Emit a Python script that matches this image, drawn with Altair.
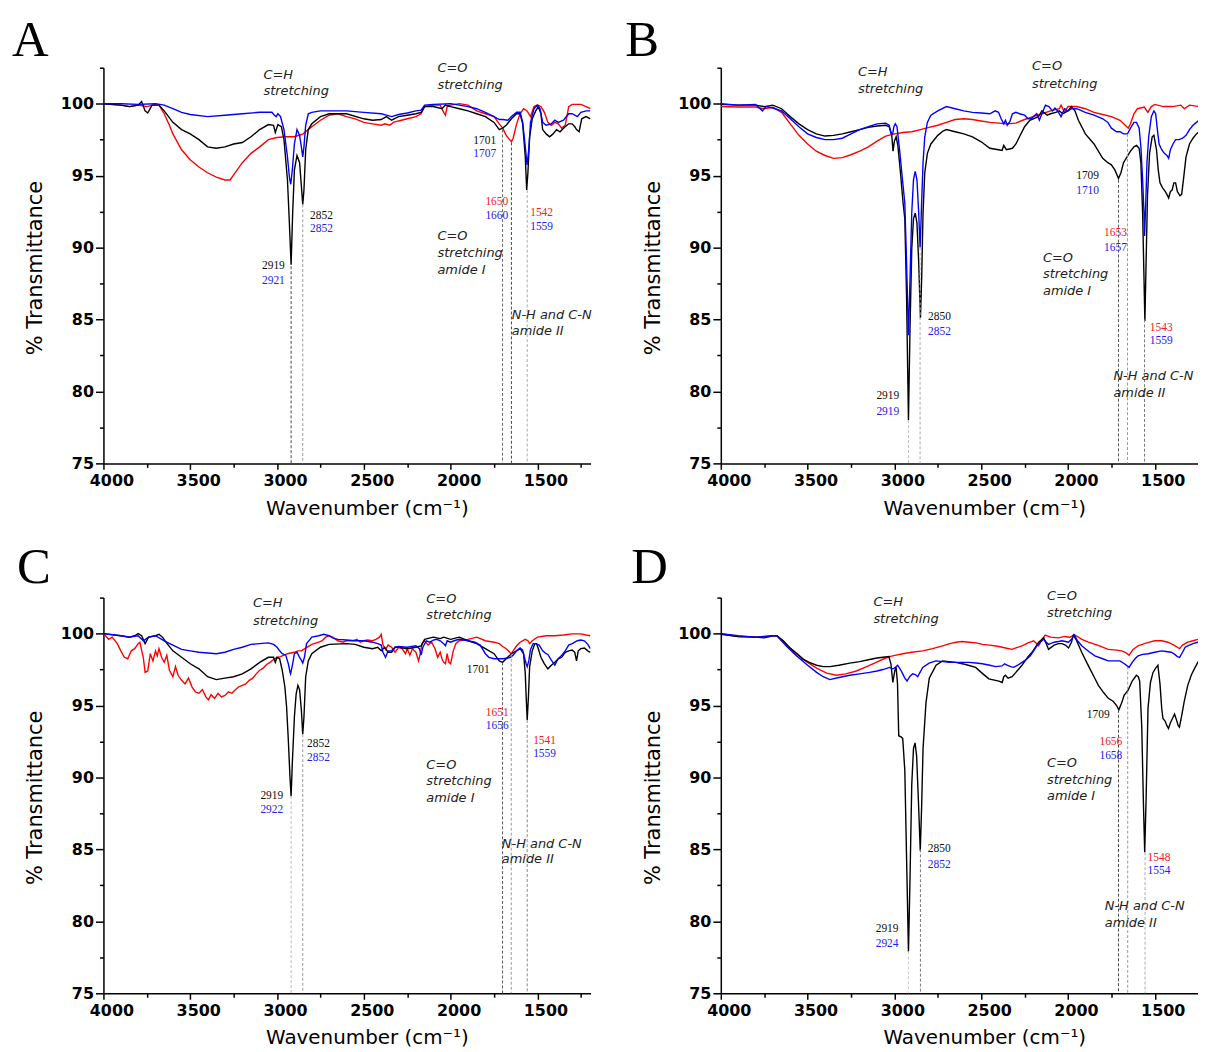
import altair as alt
import pandas as pd

# ---------------- Panel A spectra (wavenumber, %T) ----------------
A_black = [(4000,100),(3900,99.9),(3850,99.8),(3800,99.9),(3780,100.15),(3760,99.5),(3745,99.35),(3720,99.9),(3680,99.9),(3650,99.5),
           (3600,98.7),(3550,98.2),(3500,97.9),(3450,97.5),(3400,97.0),(3350,96.9),(3300,97.0),(3250,97.2),(3200,97.3),(3150,97.7),
           (3100,98.2),(3050,98.55),(3020,98.5),(3010,98.0),(2995,98.55),(2975,98.4),(2960,97.5),(2940,94.7),(2930,92.0),(2919,88.8),
           (2910,92.4),(2900,95.4),(2885,96.4),(2870,95.9),(2860,94.3),(2852,93.0),(2845,94.0),(2835,96.8),(2820,98.2),(2800,98.6),
           (2750,99.1),(2700,99.3),(2600,99.3),(2500,98.95),(2450,98.85),(2400,98.9),(2370,99.1),(2340,98.85),(2300,99.1),(2250,99.2),
           (2200,99.3),(2170,99.4),(2150,99.8),(2100,99.8),(2050,99.65),(2030,99.9),(2000,99.8),(1950,99.65),(1900,99.5),(1850,99.3),
           (1800,99.1),(1750,98.7),(1720,98.2),(1701,98.3),(1680,98.5),(1650,98.95),(1620,99.3),(1600,99.3),(1585,98.6),(1570,96.3),
           (1562,94.0),(1555,95.2),(1545,97.7),(1530,98.95),(1510,99.5),(1495,99.8),(1480,99.3),(1470,98.2),(1450,97.9),(1430,97.7),
           (1410,97.9),(1390,98.2),(1370,98.05),(1350,98.3),(1320,98.6),(1300,98.6),(1285,98.4),(1275,98.2),(1260,98.05),(1245,98.95),
           (1220,99.1),(1195,98.95)]
A_red = [(4000,100),(3900,99.9),(3850,99.8),(3800,99.9),(3750,99.8),(3700,99.95),(3680,99.9),(3650,99.3),(3620,98.5),(3600,97.9),
         (3550,96.8),(3500,96.1),(3450,95.6),(3400,95.2),(3350,94.9),(3300,94.7),(3270,94.7),(3250,95.05),(3200,95.9),(3150,96.55),
         (3100,97.0),(3050,97.5),(3000,97.65),(2950,97.7),(2900,97.7),(2850,97.9),(2800,98.4),(2750,98.85),(2700,99.2),(2650,99.3),
         (2600,99.1),(2550,98.95),(2500,98.7),(2450,98.6),(2400,98.5),(2380,98.6),(2350,98.5),(2330,98.7),(2300,98.8),(2250,98.95),
         (2200,99.1),(2170,99.3),(2150,99.8),(2100,99.9),(2060,99.9),(2040,99.4),(2030,99.2),(2020,99.8),(2000,99.9),(1950,100),
         (1900,99.9),(1850,99.5),(1800,99.3),(1750,99.1),(1720,98.6),(1700,98.3),(1680,97.8),(1660,97.5),(1650,97.35),(1640,97.6),
         (1620,98.6),(1600,99.3),(1580,99.65),(1560,99.5),(1540,99.1),(1520,99.8),(1500,99.9),(1480,99.8),(1460,99.4),(1440,98.7),
         (1420,98.5),(1400,98.7),(1380,98.6),(1360,98.3),(1340,98.5),(1320,99.8),(1300,99.95),(1250,99.95),(1220,99.8),(1195,99.65)]
A_blue = [(4000,100),(3900,100),(3800,99.95),(3700,100),(3650,99.9),(3600,99.65),(3550,99.4),(3500,99.25),(3400,99.1),(3300,99.2),
          (3200,99.3),(3100,99.4),(3030,99.4),(3015,99.2),(3005,99.1),(2995,99.3),(2980,99.1),(2960,98.2),(2940,96.3),(2928,94.8),
          (2921,94.4),(2912,95.4),(2900,97.2),(2885,98.2),(2870,97.8),(2860,97.0),(2852,96.3),(2845,97.0),(2835,98.5),(2820,99.3),
          (2800,99.4),(2750,99.5),(2600,99.5),(2500,99.4),(2400,99.3),(2370,99.2),(2340,99.1),(2300,99.25),(2250,99.35),(2200,99.5),
          (2170,99.55),(2150,99.9),(2100,99.95),(2000,100),(1900,99.8),(1850,99.65),(1800,99.4),(1750,99.1),(1720,98.9),(1700,98.9),
          (1670,98.85),(1650,99.1),(1620,99.4),(1600,99.4),(1585,98.7),(1570,97.0),(1560,95.75),(1550,96.8),(1540,98.7),(1520,99.65),
          (1500,99.9),(1485,99.65),(1470,98.7),(1450,98.5),(1420,98.6),(1400,98.85),(1380,98.7),(1350,98.85),(1320,99.3),(1300,99.3),
          (1270,99.1),(1250,99.4),(1220,99.5),(1195,99.5)]

# ---------------- Panel B spectra ----------------
B_black = [(4000,99.95),(3900,99.9),(3800,99.9),(3750,99.8),(3700,99.9),(3650,99.65),(3600,99.1),(3550,98.6),(3500,98.2),(3450,97.9),
           (3400,97.75),(3350,97.8),(3300,97.9),(3250,98.05),(3200,98.2),(3150,98.35),(3100,98.45),(3050,98.5),(3030,98.4),(3015,97.8),
           (3008,96.7),(3000,97.4),(2990,97.7),(2980,97.1),(2965,95.2),(2950,93.1),(2940,92.0),(2930,86.7),(2919,78.0),(2910,84.4),
           (2900,89.9),(2890,92.0),(2880,92.4),(2870,91.7),(2860,89.0),(2850,85.1),(2843,87.8),(2835,92.4),(2825,95.2),(2810,96.55),
           (2790,97.2),(2750,97.8),(2720,98.1),(2700,98.2),(2650,98.05),(2600,97.9),(2550,97.7),(2500,97.35),(2450,96.9),(2400,96.8),
           (2380,96.75),(2370,97.1),(2355,96.8),(2320,96.9),(2300,97.2),(2250,98.4),(2220,98.85),(2200,98.95),(2170,99.1),(2150,99.5),
           (2120,99.2),(2100,99.3),(2070,99.4),(2050,99.5),(2030,99.3),(2000,99.5),(1980,99.8),(1960,99.5),(1940,98.85),(1900,97.9),
           (1850,97.2),(1800,96.2),(1770,95.9),(1750,95.75),(1730,95.4),(1709,94.8),(1695,95.2),(1680,95.9),(1660,96.3),(1640,96.7),
           (1620,97.0),(1605,97.1),(1590,96.9),(1580,95.9),(1570,92.4),(1562,87.8),(1557,84.9),(1550,89.0),(1542,93.6),(1530,96.55),
           (1515,97.7),(1505,97.8),(1490,96.8),(1480,95.4),(1470,94.5),(1455,94.15),(1440,93.9),(1430,93.7),(1420,93.45),(1410,93.9),
           (1400,94.0),(1390,94.5),(1380,94.5),(1370,93.9),(1355,93.6),(1345,93.7),(1335,94.7),(1320,96.3),(1300,97.2),(1280,97.6),
           (1260,97.9),(1245,98.05)]
B_blue = [(4000,100),(3900,99.9),(3800,99.95),(3760,99.5),(3740,99.8),(3700,99.7),(3650,99.5),(3600,98.95),(3550,98.4),(3500,97.9),
          (3450,97.65),(3400,97.5),(3350,97.5),(3300,97.6),(3250,97.9),(3200,98.2),(3150,98.4),(3100,98.6),(3050,98.65),(3030,98.5),
          (3018,97.9),(3010,97.9),(3003,98.4),(2995,98.6),(2985,98.4),(2970,96.8),(2955,94.9),(2940,93.1),(2930,89.0),(2919,83.9),
          (2910,87.8),(2900,92.4),(2890,94.7),(2880,95.3),(2870,94.7),(2860,92.4),(2852,90.0),(2845,92.4),(2835,95.9),(2825,97.7),
          (2810,98.7),(2790,99.2),(2750,99.5),(2700,99.8),(2650,99.65),(2600,99.5),(2550,99.4),(2500,99.35),(2450,99.3),(2420,99.5),
          (2400,99.4),(2385,98.95),(2370,98.6),(2360,98.85),(2350,98.5),(2335,98.75),(2320,99.3),(2300,99.4),(2280,99.3),(2250,99.2),
          (2230,98.95),(2210,98.95),(2200,99.1),(2180,99.3),(2165,98.85),(2150,99.3),(2130,99.9),(2110,99.8),(2090,99.5),(2075,99.7),
          (2060,99.5),(2040,99.1),(2020,99.65),(2000,99.5),(1980,99.65),(1950,99.65),(1900,99.4),(1850,99.2),(1800,98.95),(1770,98.7),
          (1750,98.3),(1720,98.05),(1700,98.05),(1680,97.9),(1657,97.9),(1640,98.3),(1620,98.7),(1605,98.7),(1590,98.3),(1580,97.0),
          (1570,94.7),(1562,92.4),(1559,90.8),(1552,93.1),(1545,95.9),(1535,97.7),(1520,99.1),(1505,99.5),(1495,99.3),(1485,98.2),
          (1475,97.2),(1460,96.8),(1445,96.55),(1430,96.4),(1420,96.2),(1410,96.8),(1395,97.2),(1380,97.5),(1360,97.5),(1340,97.6),
          (1320,97.8),(1300,98.2),(1280,98.5),(1260,98.7),(1245,98.85)]
B_red = [(4000,99.8),(3900,99.77),(3800,99.77),(3750,99.65),(3700,99.75),(3650,99.4),(3600,98.6),(3550,97.8),(3500,97.2),(3450,96.7),
         (3400,96.4),(3350,96.2),(3300,96.25),(3250,96.45),(3200,96.7),(3150,97.0),(3100,97.4),(3050,97.75),(3000,97.9),(2950,98.0),
         (2900,98.05),(2850,98.2),(2800,98.35),(2750,98.5),(2700,98.7),(2650,98.9),(2600,98.95),(2550,98.9),(2500,98.8),(2450,98.7),
         (2400,98.65),(2350,98.6),(2300,98.65),(2250,98.9),(2200,99.1),(2150,99.3),(2100,99.5),(2050,99.65),(2040,99.9),(2020,99.4),
         (2000,99.8),(1950,99.8),(1900,99.65),(1850,99.4),(1800,99.25),(1750,99.1),(1700,98.85),(1670,98.5),(1653,98.3),(1640,98.6),
         (1620,99.3),(1600,99.65),(1560,99.77),(1540,99.4),(1520,99.8),(1500,99.95),(1450,99.8),(1400,99.8),(1350,99.9),(1330,99.65),
         (1300,99.9),(1245,99.8)]

# ---------------- Panel C spectra ----------------
C_black = [(4000,100),(3900,99.85),(3850,99.75),(3820,99.85),(3800,100.0),(3780,99.85),(3760,99.3),(3740,99.75),(3700,99.85),(3680,99.95),
           (3660,99.75),(3640,99.4),(3600,98.8),(3550,98.35),(3500,97.9),(3450,97.55),(3400,97.0),(3350,96.8),(3300,96.9),(3250,97.0),
           (3200,97.2),(3150,97.55),(3100,98.0),(3050,98.35),(3020,98.35),(3010,98.0),(3000,98.35),(2985,98.25),(2970,97.45),(2955,96.3),
           (2945,94.9),(2935,92.6),(2925,89.9),(2919,88.7),(2912,91.0),(2900,94.2),(2890,95.8),(2880,96.4),(2870,96.1),(2860,94.7),
           (2852,93.0),(2845,94.2),(2835,97.0),(2820,98.1),(2800,98.6),(2750,99.05),(2700,99.25),(2600,99.3),(2550,99.25),(2500,99.05),
           (2450,98.95),(2420,99.05),(2400,98.8),(2380,99.05),(2360,98.7),(2340,98.7),(2320,99.05),(2300,99.05),(2250,98.95),(2200,99.05),
           (2170,99.15),(2150,99.6),(2100,99.75),(2060,99.65),(2040,99.75),(2000,99.6),(1950,99.75),(1900,99.5),(1850,99.3),(1800,98.95),
           (1750,98.6),(1720,98.1),(1701,98.0),(1680,98.25),(1650,98.6),(1620,98.8),(1600,98.95),(1580,98.6),(1570,97.2),(1565,95.6),
           (1559,94.0),(1552,95.6),(1545,97.7),(1530,98.8),(1515,99.3),(1505,99.3),(1495,98.95),(1480,98.35),(1460,97.9),(1440,97.55),
           (1420,97.8),(1400,98.0),(1380,98.25),(1360,98.35),(1340,98.7),(1320,98.8),(1300,98.85),(1285,98.7),(1275,98.1),(1265,98.8),
           (1250,98.95),(1230,99.0),(1210,98.8),(1195,98.7)]
C_red = [(4000,100),(3970,99.6),(3950,99.75),(3920,99.3),(3900,98.8),(3880,98.35),(3860,98.25),(3840,98.8),(3820,98.95),(3800,99.3),
         (3790,99.4),(3770,98.3),(3760,97.3),(3745,97.4),(3730,98.6),(3715,98.1),(3700,98.8),(3690,98.45),(3680,98.95),(3665,98.35),
         (3650,98.0),(3635,98.5),(3620,97.45),(3600,97.0),(3585,97.7),(3570,97.1),(3550,96.75),(3530,96.5),(3510,96.9),(3490,96.3),
         (3470,95.95),(3450,95.85),(3430,96.1),(3410,95.6),(3395,95.4),(3380,95.75),(3360,95.5),(3340,95.85),(3320,95.6),(3300,95.7),
         (3280,95.95),(3260,95.85),(3240,96.1),(3220,96.3),(3200,96.4),(3180,96.5),(3160,96.75),(3140,96.9),(3120,97.2),(3100,97.45),
         (3080,97.6),(3060,97.85),(3040,98.0),(3020,98.2),(3000,98.35),(2980,98.4),(2960,98.5),(2940,98.6),(2920,98.65),(2900,98.7),
         (2880,98.8),(2860,98.8),(2840,98.95),(2800,99.25),(2760,99.4),(2740,99.5),(2720,99.75),(2700,99.85),(2680,99.75),(2650,99.5),
         (2620,99.4),(2600,99.5),(2560,99.5),(2540,99.6),(2520,99.4),(2500,99.5),(2480,99.55),(2450,99.5),(2430,99.6),(2410,99.75),
         (2400,99.95),(2390,99.2),(2375,98.9),(2360,99.2),(2340,99.05),(2320,98.7),(2300,99.05),(2280,98.95),(2260,98.6),(2250,98.95),
         (2235,98.5),(2220,98.95),(2200,98.7),(2185,98.1),(2175,98.6),(2165,99.3),(2150,99.5),(2130,99.2),(2110,99.4),(2090,98.95),
         (2075,98.35),(2060,98.7),(2050,98.25),(2040,98.0),(2030,97.9),(2020,98.6),(2010,98.0),(2000,97.9),(1985,98.8),(1970,99.3),
         (1950,99.5),(1900,99.6),(1850,99.75),(1800,99.5),(1750,99.4),(1720,99.3),(1700,99.1),(1680,98.95),(1660,98.7),(1651,98.6),
         (1640,98.8),(1620,99.15),(1600,99.4),(1570,99.6),(1555,99.5),(1545,99.3),(1530,99.5),(1500,99.75),(1450,99.85),(1400,99.85),
         (1350,99.9),(1300,99.98),(1250,99.98),(1220,99.9),(1195,99.85)]
C_blue = [(4000,100),(3900,99.85),(3850,99.75),(3800,99.85),(3770,99.5),(3740,99.75),(3700,99.85),(3650,99.5),(3600,99.2),(3550,98.9),
          (3500,98.8),(3450,98.7),(3400,98.65),(3350,98.6),(3300,98.7),(3250,98.9),(3200,99.05),(3150,99.25),(3100,99.3),(3050,99.35),
          (3020,99.25),(3000,99.05),(2985,98.8),(2970,98.6),(2950,98.5),(2935,97.9),(2925,97.3),(2922,97.2),(2910,97.9),(2900,98.6),
          (2885,98.7),(2870,98.35),(2860,98.15),(2852,97.95),(2842,98.35),(2830,99.3),(2810,99.6),(2800,99.75),(2760,99.85),(2730,99.95),
          (2700,99.85),(2680,99.7),(2650,99.6),(2600,99.55),(2550,99.5),(2500,99.5),(2450,99.4),(2420,99.3),(2400,99.2),(2390,98.7),
          (2375,98.35),(2360,98.8),(2340,98.8),(2320,99.05),(2300,99.1),(2250,99.05),(2200,99.15),(2180,98.95),(2170,98.5),(2160,99.05),
          (2140,99.5),(2120,99.4),(2100,99.55),(2080,99.6),(2060,99.5),(2040,99.3),(2030,99.15),(2020,99.5),(2000,99.4),(1980,99.5),
          (1950,99.6),(1900,99.5),(1860,99.4),(1830,99.2),(1800,98.6),(1780,98.35),(1750,98.25),(1700,98.25),(1670,98.3),(1656,98.35),
          (1640,98.5),(1620,98.8),(1600,99.0),(1585,98.85),(1575,98.35),(1565,97.9),(1559,97.7),(1550,98.1),(1540,98.9),(1525,99.3),
          (1510,99.3),(1500,99.25),(1490,99.2),(1470,98.8),(1450,98.6),(1440,98.55),(1420,98.15),(1400,97.8),(1390,98.05),(1380,98.25),
          (1360,98.5),(1340,98.8),(1320,99.2),(1300,99.3),(1270,99.5),(1250,99.55),(1230,99.5),(1210,99.25),(1195,98.95)]

# ---------------- Panel D spectra ----------------
D_black = [(4000,99.95),(3900,99.8),(3800,99.75),(3750,99.7),(3700,99.85),(3677,99.85),(3640,99.5),(3601,99.0),(3560,98.6),(3525,98.2),
           (3490,98.0),(3448,97.8),(3410,97.7),(3372,97.7),(3320,97.8),(3257,97.95),(3200,98.05),(3143,98.2),(3100,98.3),(3066,98.35),
           (3032,98.4),(3020,97.9),(3009,96.6),(2998,97.4),(2990,97.65),(2982,96.5),(2975,92.9),(2960,92.8),(2952,92.7),(2940,90.5),
           (2930,84.5),(2919,77.9),(2910,83.0),(2900,89.5),(2890,92.0),(2881,92.4),(2872,91.5),(2862,88.5),(2851,84.9),(2843,88.0),
           (2835,92.0),(2818,95.2),(2799,96.9),(2760,97.8),(2723,98.1),(2646,98.0),(2590,97.85),(2532,97.65),(2490,97.2),(2456,96.85),
           (2398,96.7),(2379,96.6),(2370,97.0),(2360,97.1),(2345,96.9),(2322,97.0),(2300,97.3),(2265,97.8),(2230,98.4),(2207,98.7),
           (2169,99.4),(2140,99.7),(2125,99.3),(2112,98.9),(2080,99.2),(2055,99.3),(2035,99.3),(2015,99.2),(1997,99.0),(1980,99.4),
           (1969,99.9),(1950,99.5),(1921,98.7),(1880,97.7),(1850,97.0),(1825,96.4),(1795,95.9),(1768,95.5),(1740,95.3),(1720,95.0),
           (1707,94.7),(1690,95.2),(1677,95.7),(1654,96.05),(1630,96.7),(1606,97.1),(1595,97.0),(1587,96.7),(1575,93.5),(1565,88.0),
           (1558,84.8),(1550,88.5),(1539,94.8),(1525,96.6),(1510,97.3),(1495,97.6),(1482,97.8),(1470,96.5),(1460,94.8),(1453,94.1),
           (1440,93.9),(1430,93.6),(1421,93.4),(1410,93.8),(1398,94.1),(1386,94.4),(1375,94.0),(1365,93.6),(1358,93.5),(1345,94.3),
           (1330,95.3),(1310,96.4),(1290,97.1),(1270,97.6),(1252,98.0),(1245,98.1)]
D_blue = [(4000,100),(3900,99.85),(3800,99.75),(3700,99.85),(3677,99.85),(3620,99.1),(3563,98.45),(3500,97.8),(3448,97.3),(3410,97.0),
          (3372,96.8),(3320,96.95),(3257,97.1),(3200,97.2),(3143,97.3),(3100,97.4),(3066,97.5),(3028,97.65),(3010,97.55),(3000,97.6),
          (2981,97.8),(2965,97.5),(2952,97.2),(2940,96.9),(2927,96.7),(2912,97.0),(2895,97.2),(2880,97.15),(2866,97.0),(2850,97.35),
          (2837,97.65),(2800,97.95),(2761,98.1),(2720,98.05),(2685,98.0),(2630,98.0),(2570,98.0),(2530,97.95),(2494,97.9),(2450,97.8),
          (2417,97.7),(2380,97.75),(2365,97.9),(2351,97.8),(2330,97.7),(2312,97.65),(2290,97.8),(2265,98.0),(2240,98.2),(2217,98.45),
          (2195,98.85),(2179,99.15),(2160,99.4),(2140,99.6),(2125,99.4),(2112,99.25),(2080,99.4),(2055,99.45),(2035,99.5),(2015,99.45),
          (1997,99.4),(1980,99.6),(1963,99.9),(1945,99.5),(1921,99.15),(1880,98.75),(1845,98.45),(1800,98.25),(1768,98.1),(1730,98.1),
          (1701,98.1),(1675,97.9),(1648,97.65),(1630,98.0),(1610,98.3),(1596,98.45),(1570,98.55),(1538,98.6),(1500,98.7),(1462,98.8),
          (1435,98.75),(1405,98.7),(1385,98.55),(1370,98.4),(1357,98.35),(1340,98.7),(1325,99.05),(1310,99.15),(1280,99.3),(1252,99.4),
          (1245,99.4)]
D_red = [(4000,100),(3900,99.8),(3800,99.75),(3700,99.85),(3677,99.85),(3620,99.2),(3563,98.6),(3500,98.0),(3448,97.6),(3390,97.25),
         (3334,97.1),(3280,97.2),(3219,97.4),(3160,97.7),(3105,98.0),(3060,98.25),(3028,98.4),(2990,98.5),(2952,98.6),(2900,98.7),
         (2837,98.8),(2780,98.95),(2723,99.15),(2680,99.3),(2646,99.4),(2610,99.45),(2570,99.4),(2530,99.35),(2494,99.25),(2450,99.2),
         (2398,99.1),(2360,99.0),(2322,98.9),(2300,99.0),(2265,99.15),(2230,99.35),(2198,99.5),(2180,99.3),(2169,99.15),(2150,99.6),
         (2131,99.9),(2100,99.75),(2055,99.7),(2020,99.8),(1990,99.75),(1960,99.9),(1920,99.6),(1883,99.4),(1830,99.2),(1768,98.9),
         (1720,98.85),(1692,98.8),(1670,98.7),(1648,98.5),(1625,98.9),(1596,99.15),(1560,99.3),(1530,99.4),(1501,99.5),(1460,99.5),
         (1424,99.4),(1390,99.2),(1370,99.05),(1357,98.95),(1340,99.2),(1310,99.4),(1280,99.5),(1252,99.6),(1245,99.6)]

# ---------------- Annotations: peak numbers (wn, %T, text, colour) ----------------
A_peaks = [(3021,88.75,"2919","#111"),(3021,87.7,"2921","#2222ee"),(2744,92.2,"2852","#111"),(2744,91.3,"2852","#2222ee"),
           (1804,97.4,"1701","#111"),(1804,96.5,"1707","#2222ee"),(1734,93.2,"1650","#ee2222"),(1734,92.2,"1660","#2222ee"),
           (1476,92.4,"1542","#ee2222"),(1476,91.4,"1559","#2222ee")]
B_peaks = [(3038,79.7,"2919","#111"),(3038,78.6,"2919","#2222ee"),(2740,85.2,"2850","#111"),(2740,84.1,"2852","#2222ee"),
           (1887,95.0,"1709","#111"),(1887,93.9,"1710","#2222ee"),(1726,91.0,"1653","#ee2222"),(1726,90.0,"1657","#2222ee"),
           (1463,84.4,"1543","#ee2222"),(1463,83.5,"1559","#2222ee")]
C_peaks = [(3030,88.7,"2919","#111"),(3030,87.74,"2922","#2222ee"),(2761,92.34,"2852","#111"),(2761,91.36,"2852","#2222ee"),
           (1841,97.45,"1701","#111"),(1732,94.46,"1651","#ee2222"),(1732,93.6,"1656","#2222ee"),
           (1459,92.5,"1541","#ee2222"),(1459,91.6,"1559","#2222ee")]
D_peaks = [(3042,79.5,"2919","#111"),(3042,78.4,"2924","#2222ee"),(2742,85.0,"2850","#111"),(2742,83.9,"2852","#2222ee"),
           (1826,94.33,"1709","#111"),(1753,92.45,"1656","#ee2222"),(1753,91.5,"1658","#2222ee"),
           (1476,84.4,"1548","#ee2222"),(1476,83.5,"1554","#2222ee")]

# ---------------- Annotations: band notes (wn, %T, text) ----------------
A_notes = [(3078,102.0,"C=H"),(3078,100.85,"stretching"),(2076,102.5,"C=O"),(2076,101.3,"stretching"),
           (2076,90.8,"C=O"),(2076,89.6,"stretching"),(2076,88.45,"amide I"),(1648,85.3,"N-H and C-N"),(1648,84.2,"amide II")]
B_notes = [(3210,102.17,"C=H"),(3210,101.0,"stretching"),(2207,102.6,"C=O"),(2207,101.4,"stretching"),
           (2144,89.3,"C=O"),(2144,88.15,"stretching"),(2144,87.0,"amide I"),(1738,81.1,"N-H and C-N"),(1738,79.9,"amide II")]
C_notes = [(3139,102.1,"C=H"),(3139,100.88,"stretching"),(2140,102.4,"C=O"),(2140,101.27,"stretching"),
           (2140,90.88,"C=O"),(2140,89.73,"stretching"),(2140,88.58,"amide I"),(1705,85.4,"N-H and C-N"),(1705,84.3,"amide II")]
D_notes = [(3121,102.2,"C=H"),(3121,101.04,"stretching"),(2121,102.58,"C=O"),(2121,101.43,"stretching"),
           (2121,91.0,"C=O"),(2121,89.85,"stretching"),(2121,88.7,"amide I"),(1788,81.05,"N-H and C-N"),(1788,79.9,"amide II")]

# ---------------- Dashed guide lines (wn, top %T, colour) ----------------
A_guides = [(2919,88.7,"#444"),(2852,93.0,"#999"),(1701,98.2,"#666"),(1650,97.3,"#444"),(1559,94.0,"#aaa")]
B_guides = [(2919,78.0,"#bbb"),(2852,90.0,"#aaa"),(1709,94.7,"#555"),(1657,97.9,"#999"),(1559,85.0,"#777")]
C_guides = [(2919,88.7,"#bbb"),(2852,93.0,"#999"),(1701,98.0,"#555"),(1651,98.6,"#999"),(1559,94.0,"#888")]
D_guides = [(2919,77.9,"#ccc"),(2850,85.0,"#777"),(1709,94.7,"#444"),(1656,97.7,"#999"),(1556,84.8,"#aaa")]

X_TITLE = "Wavenumber (cm\u207b\u00b9)"
Y_TITLE = "% Transmittance"
PLOT_H = 398


def panel(series, peaks, notes, guides, letter, letter_x, letter_y, xmin, width, anchor=False):
    xs = alt.Scale(domain=[xmin, 4000], reverse=True, nice=False, zero=False)
    ys = alt.Scale(domain=[75, 102.5], nice=False, zero=False)
    xt = [v for v in range(4000, 1100, -250) if v >= xmin]
    yt = [75 + 2.5 * i for i in range(12)]
    xaxis = alt.Axis(values=xt, format="d", labelFlush=False, labelOverlap=False,
                     labelExpr="datum.value % 500 === 0 ? datum.label : ''",
                     tickSize={"condition": {"test": "datum.value % 500 === 0", "value": 6}, "value": 4},
                     labelPadding=3, labelOffset=8, titleX=265, titleY=51, titleBaseline="alphabetic",
                     titleAnchor="middle", titleFontSize=20)
    yaxis = alt.Axis(values=yt, format="d", labelOverlap=False,
                     labelExpr="datum.value % 5 === 0 ? datum.label : ''",
                     tickSize={"condition": {"test": "datum.value % 5 === 0", "value": 8}, "value": 4},
                     labelPadding=2, titleX=-58, titleY=PLOT_H / 2 + 2, titleFontSize=21)
    X = alt.X("wn:Q", scale=xs, axis=xaxis, title=X_TITLE)
    Y = alt.Y("T:Q", scale=ys, axis=yaxis, title=Y_TITLE)

    layers = []
    for pts, color in series:
        df = pd.DataFrame(pts, columns=["wn", "T"])
        layers.append(alt.Chart(df).mark_line(color=color, strokeWidth=1.4, clip=True).encode(x=X, y=Y))

    gdf = pd.DataFrame(guides, columns=["wn", "T", "c"])
    gdf["b"] = 75
    layers.append(alt.Chart(gdf).mark_rule(strokeDash=[3, 2], strokeWidth=1).encode(
        x=X, y=Y, y2="b:Q", color=alt.Color("c:N", scale=None)))

    pdf = pd.DataFrame(peaks, columns=["wn", "T", "txt", "c"])
    layers.append(alt.Chart(pdf).mark_text(font="Liberation Serif", fontSize=11.5, align="center",
                                           baseline="middle").encode(
        x=X, y=Y, text="txt:N", color=alt.Color("c:N", scale=None)))

    ndf = pd.DataFrame(notes, columns=["wn", "T", "txt"])
    layers.append(alt.Chart(ndf).mark_text(font="DejaVu Sans", fontStyle="italic", fontSize=13, align="left",
                                           baseline="middle", color="#222").encode(x=X, y=Y, text="txt:N"))

    ldf = pd.DataFrame({"t": [letter]})
    layers.append(alt.Chart(ldf).mark_text(font="Liberation Serif", fontSize=51, align="left",
                                           baseline="alphabetic", color="black").encode(
        x=alt.value(letter_x), y=alt.value(letter_y), text="t:N"))
    if anchor:
        layers.append(alt.Chart(pd.DataFrame({"a": [0]})).mark_rule(color="white", strokeWidth=1).encode(
            x=alt.value(-95), x2=alt.value(-94), y=alt.value(-56)))
    return alt.layer(*layers).properties(width=width, height=PLOT_H)


pa = panel([(A_red, "#ff0000"), (A_black, "#000000"), (A_blue, "#0000ff")], A_peaks, A_notes, A_guides,
           "A", -92, -12, 1194, 490, anchor=True)
pb = panel([(B_red, "#ff0000"), (B_black, "#000000"), (B_blue, "#0000ff")], B_peaks, B_notes, B_guides,
           "B", -96, -12, 1251, 480)
pc = panel([(C_red, "#ff0000"), (C_black, "#000000"), (C_blue, "#0000ff")], C_peaks, C_notes, C_guides,
           "C", -87, -15, 1194, 490)
pd_ = panel([(D_red, "#ff0000"), (D_black, "#000000"), (D_blue, "#0000ff")], D_peaks, D_notes, D_guides,
            "D", -90, -15, 1251, 480)

chart = alt.concat(pa, pb, pc, pd_, columns=2, spacing={"row": 135, "column": 131}, bounds="flush").properties(
    padding=0
).configure_view(
    stroke=None
).configure_axis(
    grid=False, domainColor="black", domainWidth=1.5, tickColor="black", tickWidth=1.5,
    labelFont="DejaVu Sans", labelFontWeight="bold", labelFontSize=16, labelColor="black",
    titleFont="DejaVu Sans", titleFontWeight="normal", titleColor="black"
)

chart.save("out.html", embed_options={"renderer": "svg", "actions": False})
